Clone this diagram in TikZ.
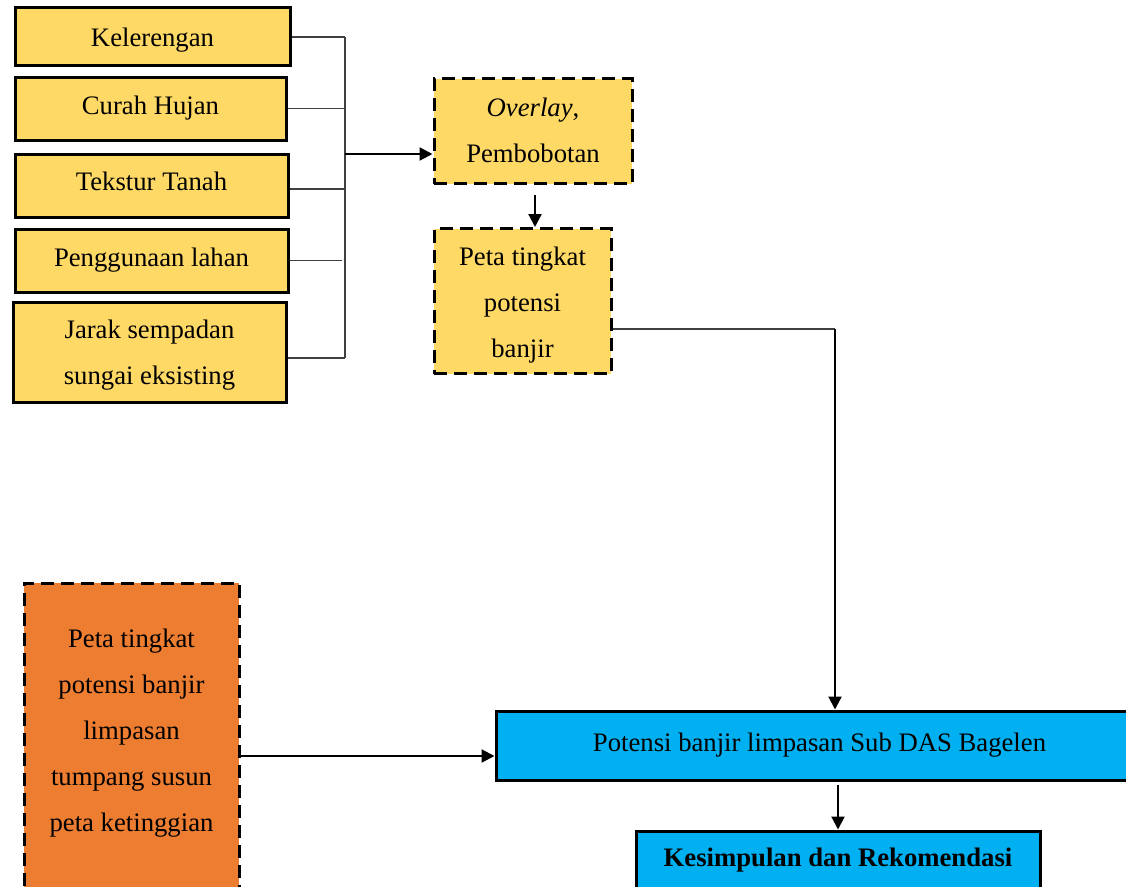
\documentclass[tikz,border=0pt]{standalone}
\usepackage{fontspec}
\setmainfont{Liberation Serif}
\usetikzlibrary{arrows.meta,calc}
\definecolor{ygold}{HTML}{FFD966}
\definecolor{orng}{HTML}{ED7D31}
\definecolor{skyb}{HTML}{00B0F0}
\newcommand\mylines[1]{\begin{tabular}{@{}c@{}}#1\end{tabular}}
\newcommand\shiftup[2]{\raisebox{#1}[\height][\depth]{#2}}
\begin{document}
\begin{tikzpicture}[x=1pt,y=-1pt,
  every node/.style={font=\fontsize{26.7}{46}\selectfont, align=center, inner sep=0pt},
  solidbox/.style={draw=black, line width=3pt, rectangle},
  dashbox/.style={draw=black, line width=3pt, rectangle, dash pattern=on 13pt off 7pt},
  thinline/.style={draw=black!75, line width=1.5pt},
  arr/.style={draw=black, line width=2.2pt, -{Triangle[length=13pt,width=13pt]}}]
\useasboundingbox (0,0) rectangle (1126,886);
\clip (0,0) rectangle (1126,886);
\fill[white] (0,0) rectangle (1126,886);
% left input boxes
\node[solidbox, fill=ygold, minimum width=275pt, minimum height=58pt] (kel) at (152.5,36) {\shiftup{-4pt}{Kelerengan}};
\node[solidbox, fill=ygold, minimum width=271pt, minimum height=63pt] (cur) at (150.5,108.5) {Curah Hujan};
\node[solidbox, fill=ygold, minimum width=273pt, minimum height=63pt] (tek) at (151.5,185.5) {\shiftup{4pt}{Tekstur Tanah}};
\node[solidbox, fill=ygold, minimum width=273pt, minimum height=63pt] (pen) at (151.5,260.5) {Penggunaan lahan};
\node[solidbox, fill=ygold, minimum width=273pt, minimum height=100pt] (jar) at (149.5,352) {\mylines{Jarak sempadan\\sungai eksisting}};
% process boxes
\node[dashbox, fill=ygold, minimum width=198pt, minimum height=105pt] (ovl) at (533,131) {\shiftup{1pt}{\mylines{\textit{Overlay},\\Pembobotan}}};
\node[dashbox, fill=ygold, minimum width=177pt, minimum height=145pt] (peta) at (522.5,301) {\shiftup{-1pt}{\mylines{Peta tingkat\\potensi\\banjir}}};
\node[dashbox, fill=orng, minimum width=215pt, minimum height=340pt] (orange) at (131.5,753) {\mylines{Peta tingkat\\potensi banjir\\limpasan\\tumpang susun\\peta ketinggian\\ \mbox{}}};
\node[solidbox, fill=skyb, minimum width=647pt, minimum height=69pt] (pot) at (819.5,745.5) {Potensi banjir limpasan Sub DAS Bagelen};
\node[solidbox, fill=skyb, minimum width=404pt, minimum height=58pt] (kes) at (838,860) {\textbf{Kesimpulan dan Rekomendasi}};
% bus
\coordinate (bustop) at (345,37);
\coordinate (busbot) at (345,358);
\coordinate (busmid) at (345,154);
\coordinate (corner) at (835,329);
\draw[thinline] (kel.east |- bustop) -- (bustop);
\draw[thinline] (cur.east) -- (cur.east -| bustop);
\draw[thinline] ([yshift=-3.5pt]tek.east) -- ([yshift=-3.5pt]tek.east -| bustop);
\draw[thinline] (pen.east) -- ([xshift=-3pt]pen.east -| bustop);
\draw[thinline] (jar.east |- busbot) -- (busbot);
\draw[thinline] (bustop) -- (busbot);
\draw[arr] (busmid) -- (busmid -| ovl.west);
\draw[arr] ($(ovl.south)+(2,10)$) -- ($(ovl.south |- peta.north)+(2,0)$);
\draw[thinline] (peta.east |- corner) -- (corner);
\draw[arr] (corner) -- (corner |- pot.north);
\draw[arr] ($(orange.east)+(0,3)$) -- ($(orange.east -| pot.west)+(0,3)$);
\draw[arr] ($(pot.south -| kes.north)+(0,3)$) -- (kes.north);
\end{tikzpicture}
\end{document}
